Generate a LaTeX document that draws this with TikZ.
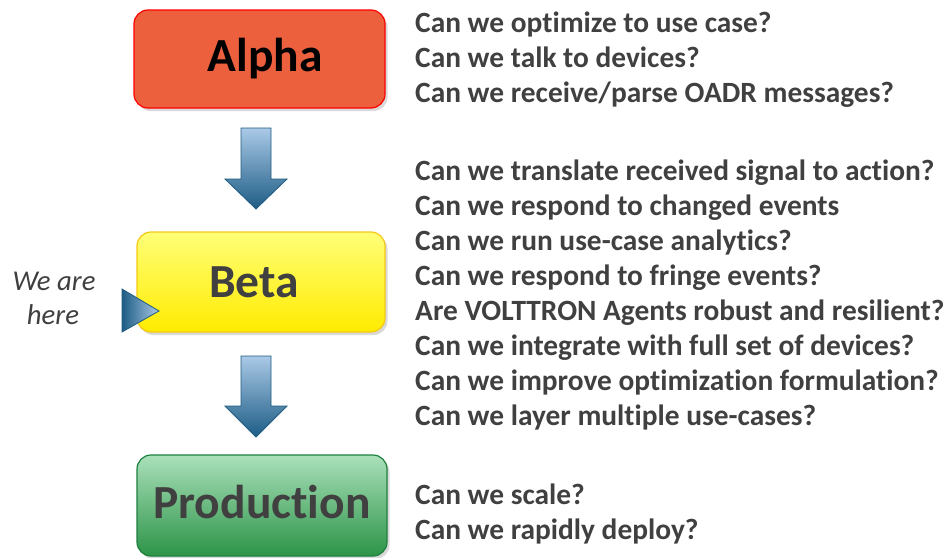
\documentclass[tikz,border=0pt]{standalone}
\usepackage{fontspec}
\setmainfont{Carlito}[RawFeature=-liga]
\usetikzlibrary{shadows}
\definecolor{txt}{HTML}{404040}
\definecolor{arrowdark}{HTML}{1D5C85}
\definecolor{arrowlight}{HTML}{AAC9E7}
\definecolor{arrowedge}{HTML}{1F5B80}
\tikzset{
  stagebox/.style={rounded corners=14pt, line width=1.2pt, minimum width=#1, inner sep=0pt,
     drop shadow={opacity=0.3, shadow xshift=2.5pt, shadow yshift=-3pt}},
  stagelabel/.style={anchor=base, font=\bfseries\fontsize{47.5}{52}\selectfont, inner sep=0pt},
  question/.style={anchor=base west, font=\bfseries\fontsize{29.4}{34}\selectfont, text=txt, inner sep=0pt},
  heretext/.style={anchor=base, font=\itshape\fontsize{28.7}{32}\selectfont, text=txt, inner sep=0pt},
  blockarrow/.style={draw=arrowedge, line width=0.8pt, top color=arrowlight, bottom color=arrowdark, line join=miter},
}
\begin{document}
\begin{tikzpicture}[x=1pt,y=-1pt]
\useasboundingbox (0,0) rectangle (950,557);
% stage boxes
\node[stagebox=251pt, minimum height=98pt, draw=red, fill={rgb,255:red,236;green,96;blue,62}] (alpha) at (259.5,59) {};
\node[stagebox=248pt, minimum height=100pt, draw={rgb,255:red,245;green,200;blue,20}, top color={rgb,255:red,255;green,255;blue,120}, bottom color={rgb,255:red,255;green,235;blue,0}] (beta) at (261,282) {};
\node[stagebox=250pt, minimum height=101pt, draw={rgb,255:red,30;green,128;blue,64}, top color={rgb,255:red,170;green,224;blue,186}, bottom color={rgb,255:red,44;green,148;blue,72}] (prod) at (262,505.5) {};
\node[stagelabel, text=black] (alphaL) at (265,71) {Alpha};
\node[stagelabel, text=txt] (betaL) at (254,297) {Beta};
\node[stagelabel, text=txt] (prodL) at (262,518) {Production};
% block arrows
\path[blockarrow] (241,128) -- (271,128) -- (271,179) -- (287,179) -- (256,209) -- (225,179) -- (241,179) -- cycle;
\path[blockarrow] (241,356) -- (271,356) -- (271,406) -- (287,406) -- (256,437) -- (225,406) -- (241,406) -- cycle;
% we are here marker
\path[draw=arrowedge, line width=0.8pt, left color=arrowdark, right color=arrowlight, line join=miter] (122,289) -- (159,311) -- (122,332) -- cycle;
\node[heretext] (here1) at (54,290) {We are};
\node[heretext] (here2) at (53,324) {here};
% questions
\node[question] (q1) at (415,32) {Can we optimize to use case?};
\node[question] (q2) at (415,67) {Can we talk to devices?};
\node[question] (q3) at (415,102) {Can we receive/parse OADR messages?};
\node[question] (q4) at (415,180) {Can we translate received signal to action?};
\node[question] (q5) at (415,215) {Can we respond to changed events};
\node[question] (q6) at (415,250) {Can we run use-case analytics?};
\node[question] (q7) at (415,285) {Can we respond to fringe events?};
\node[question] (q8) at (415,320) {Are VOLTTRON Agents robust and resilient?};
\node[question] (q9) at (415,355) {Can we integrate with full set of devices?};
\node[question] (q10) at (415,390) {Can we improve optimization formulation?};
\node[question] (q11) at (415,425) {Can we layer multiple use-cases?};
\node[question] (q12) at (415,504) {Can we scale?};
\node[question] (q13) at (415,539) {Can we rapidly deploy?};
\end{tikzpicture}
\end{document}
